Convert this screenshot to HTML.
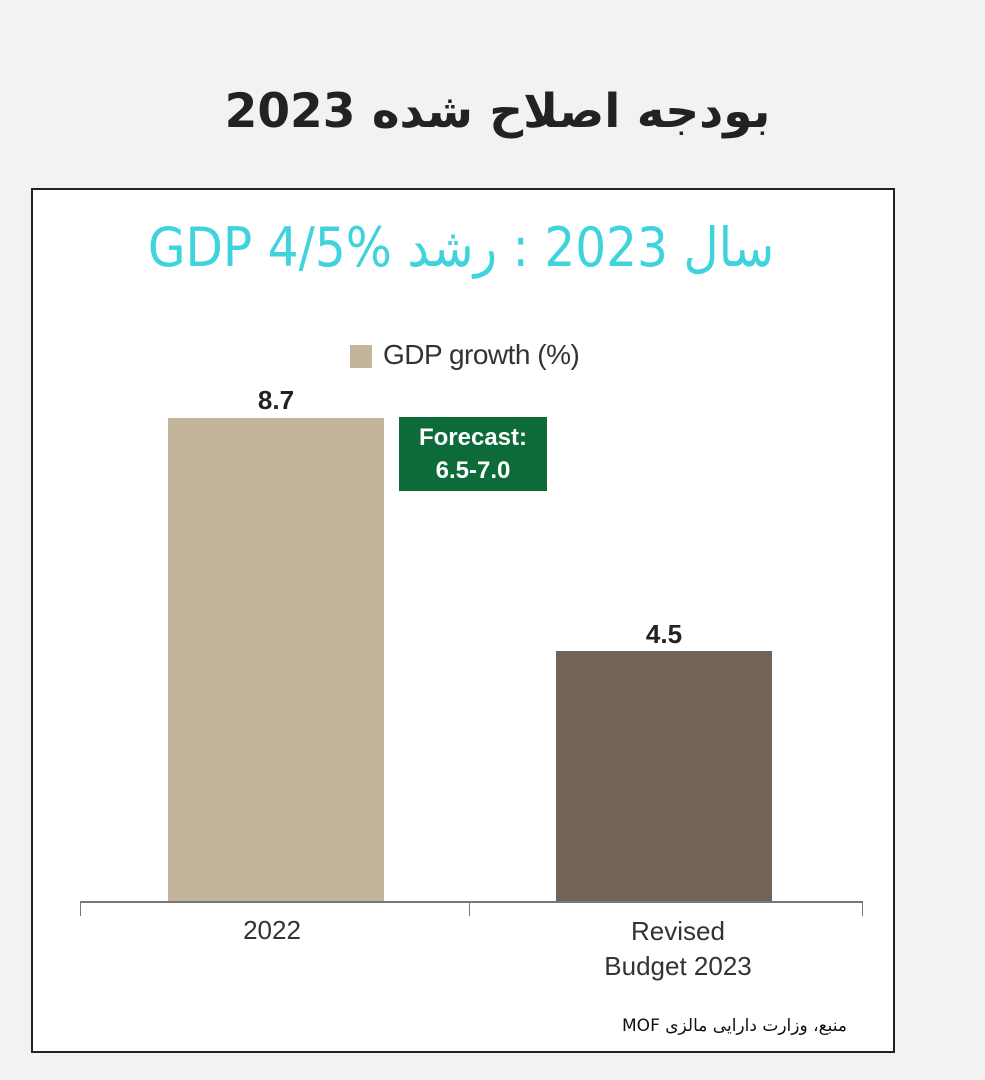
<!DOCTYPE html>
<html><head><meta charset="utf-8"><style>
body{margin:0;width:985px;height:1080px;background:#f2f2f2;position:relative;font-family:"Liberation Sans","DejaVu Sans",sans-serif;overflow:hidden}
.a{position:absolute;white-space:nowrap}
.box{position:absolute;left:31px;top:188px;width:860px;height:861px;border:2px solid #222;background:#fff}
</style></head><body>
<div class="a" dir="rtl" style="left:0;width:995px;text-align:center;top:84px;font-size:47px;font-weight:bold;color:#222;font-family:'DejaVu Sans',sans-serif">بودجه اصلاح شده 2023</div>
<div class="box"></div>
<div class="a" dir="rtl" style="left:0;width:922px;text-align:center;top:216px;font-size:54px;color:#3fd3de;font-family:'DejaVu Sans Condensed','DejaVu Sans',sans-serif">سال 2023 : رشد <bdi dir="ltr">GDP 4/5%</bdi></div>
<div class="a" style="left:350px;top:345px;width:22px;height:23px;background:#c2b59b"></div>
<div class="a" style="left:383px;top:339px;font-size:28px;color:#333;letter-spacing:-0.5px">GDP growth (%)</div>
<div class="a" style="left:168px;top:418px;width:216px;height:484px;background:#c2b59b"></div>
<div class="a" style="left:168px;width:216px;text-align:center;top:385px;font-size:26px;font-weight:bold;color:#222">8.7</div>
<div class="a" style="left:399px;top:417px;width:148px;height:74px;background:#0d6b3a;color:#fff;font-weight:bold;font-size:24px;text-align:center;line-height:33px;padding-top:4px;box-sizing:border-box">Forecast:<br>6.5-7.0</div>
<div class="a" style="left:556px;top:651px;width:216px;height:251px;background:#726557"></div>
<div class="a" style="left:556px;width:216px;text-align:center;top:619px;font-size:26px;font-weight:bold;color:#222">4.5</div>
<div class="a" style="left:80px;top:901px;width:782px;height:2px;background:#777"></div>
<div class="a" style="left:80px;top:901px;width:1px;height:15px;background:#777"></div>
<div class="a" style="left:469px;top:901px;width:1px;height:15px;background:#777"></div>
<div class="a" style="left:862px;top:901px;width:1px;height:15px;background:#777"></div>
<div class="a" style="left:172px;width:200px;text-align:center;top:915px;font-size:26px;color:#333">2022</div>
<div class="a" style="left:578px;width:200px;text-align:center;top:914px;font-size:26px;color:#333;line-height:35px">Revised<br>Budget 2023</div>
<div class="a" dir="rtl" style="right:138px;top:1016px;font-size:17px;color:#111;font-family:'DejaVu Sans',sans-serif">منبع، وزارت دارایی مالزی MOF</div>
</body></html>
